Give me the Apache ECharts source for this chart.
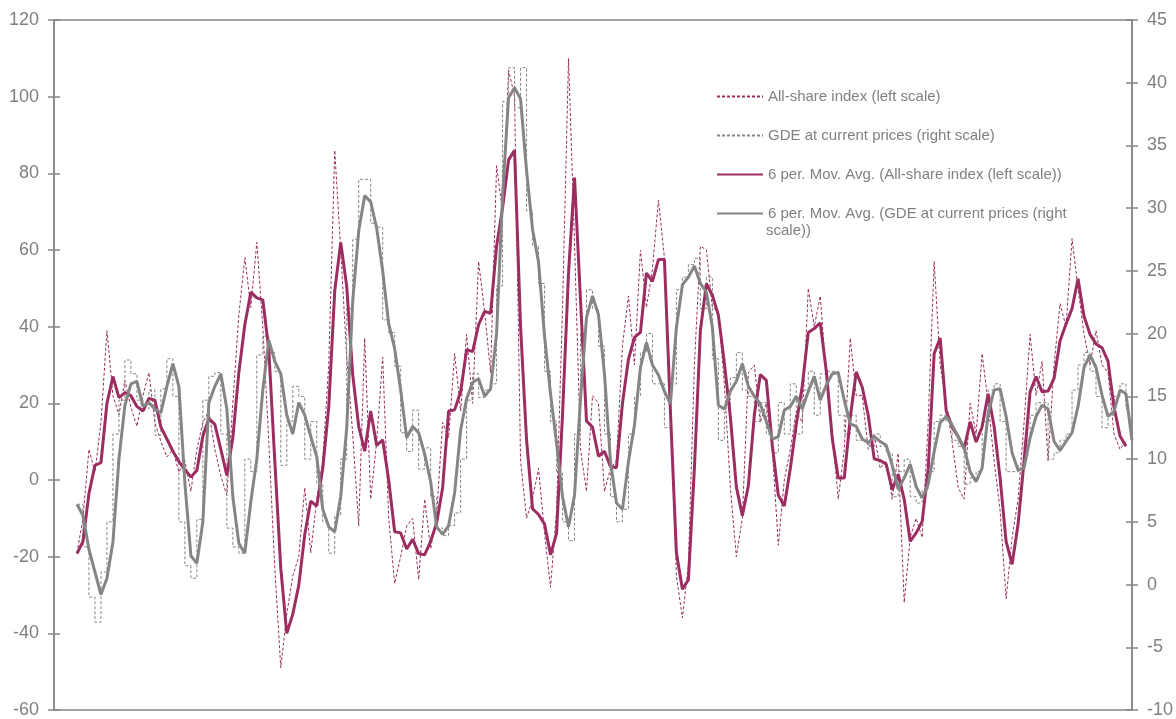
<!DOCTYPE html>
<html><head><meta charset="utf-8">
<script src="https://cdn.jsdelivr.net/npm/echarts@6/dist/echarts.min.js"></script>
<style>html,body{margin:0;padding:0;background:#fff}#c{width:1176px;height:719px}</style>
</head><body><div id="c"></div>
<script>
// quarterly samples, index = quarter number from start of the series
const allShare = [-19,-10,8,2,15,39,22,17,26,19,14,22,28,15,10,6,8,2,5,-3,8,15,18,8,1,-4,20,43,58,45,62,40,10,-23,-49,-35,-25,-20,-2,-19,-5,5,30,86,60,32,12,-12,37,-5,10,32,-10,-27,-20,-12,-10,-26,-5,-18,-9,15,11,33,18,38,20,57,44,28,82,70,107,100,5,-10,-5,3,-14,-28,-8,45,110,62,8,-3,22,20,-3,3,5,35,48,30,60,45,55,73,58,20,-25,-36,-22,30,61,60,45,44,25,-2,-20,-10,28,30,15,20,8,-17,0,8,18,15,50,40,48,27,12,-5,8,37,22,22,8,12,3,5,-5,7,-32,-15,-10,-15,15,57,30,20,10,-2,-5,20,12,33,20,5,-8,-31,-15,-5,15,38,22,31,5,30,46,40,63,50,38,30,39,30,28,12,8,10];
const gde = [6.4,3,-1,-3,1,5,12,14.7,17.9,16.8,14.7,14,15.5,11.9,15.6,18,15,5,1.5,0.5,5.2,14.7,16.6,16.9,12,4.5,3,2.5,10,9,18.3,19.8,18.5,17,9.5,13,15.8,15,10,13,8,5,2.5,5.5,10,22,27.5,32.3,32.3,28.8,28.5,21.1,20.1,17.4,12.1,10.6,13.9,9.2,10.9,7,4.5,3.9,4.7,5.7,10,14.7,16.8,14.9,15.5,16,23.8,38.5,41.2,38,41.2,29.8,27,24,17,13,9,5,3.5,12,20,23.5,22,19,12,7,5,6,12,15,18.5,20,16,16,12.5,16,23.5,24.5,25.5,26,22,24.5,18,11.5,14,16.5,18.5,15.5,15,13,14.5,12,10.5,14.5,12,16,12,15.5,17,13.5,16.8,17,17,13.5,12,13.5,11.5,11.5,11,12,11,10.5,7,9,10,7,6.5,7.5,9,13,13.5,13,11.5,11,8,8.5,9,13,15.5,16,13,9,9,9.5,11.5,13.5,14.5,14.5,10,10.5,11.5,12,15.5,17.5,18.5,17,15,12.5,13.5,15,16,14,10];
const allShareMA = [-19.2,-16,-3.5,3.8,4.5,20,27,21.5,22.8,22,19.2,18,21.3,20.8,13.8,10.7,7.5,4.8,2.7,0.8,2.5,11.5,16,14.5,8,1.2,11,28,40.5,49,47.5,47,34,5,-23,-40,-35,-27.5,-14.2,-5.5,-6.8,3,19,49.3,62,50.5,27.5,14,7.5,18,9,10.5,0,-13.5,-13.8,-18,-15.5,-19.2,-19.5,-16,-11.2,-2,18,18.3,23,34,33.5,40.5,44,43.5,61,71,83.5,86,40,10.5,-7.5,-9,-11.5,-19.5,-14,17,54,78.9,47,15.4,13.8,6.2,7.5,3.5,3.2,20,31.5,37.2,38.5,54,51.8,57.5,57.5,18,-19,-28.5,-26,3,39,51.2,48.2,43,30.5,16.5,-1.8,-9.3,-1.5,17,27.5,26,9,-4,-6.8,3,14.6,24.6,38.5,39.5,41,28.5,10.8,0.5,0.5,16.3,28.2,24.2,16.9,5.5,5.1,4.1,-2.5,1.5,-5,-16,-13.8,-10.8,2.7,33,37,18.1,13.8,11.3,8.2,15.2,9.9,13.9,22.5,14,0.5,-16,-22,-11.5,5,23,27,23,23.2,26.5,36.3,40.7,44.7,52.5,42.7,38,35.5,34.5,31,19,11.5,8.8];
const gdeMA = [6.4,5.5,2.8,1,-0.8,0.5,3.4,10,14.3,16,16.2,14.2,14.5,14,13.7,15.8,17.6,15.8,8.1,2.3,1.7,5,14.5,15.8,16.8,14,7,3.3,2.5,6.6,10,15.5,19.5,17.8,16.8,13.5,12,14.5,13.5,11.8,10.2,6,4.6,4.2,7,12.5,22.6,28.2,31,30.5,28.4,25,20.8,18.8,15.5,11.7,12.6,12.1,10.4,8.2,4.6,4,4.7,7.3,12.3,14.8,16.1,16.4,15,15.6,20,31,38.8,39.6,38.7,33,28.3,25.7,19.8,15.2,11.3,7,4.6,7.1,14.8,21.3,23,21.5,16.8,9.8,6.5,6,9.8,12.7,17.3,19.3,17.5,16.7,15.4,14.4,20.5,23.9,24.5,25.4,24,23.3,20.5,14.3,14,15.4,16.2,17.6,15.8,15,14.4,13,11.6,11.8,13.9,14.2,15,14,15.4,16.6,14.7,15.9,16.8,16.9,14.7,12.8,12.6,11.6,11.3,11.8,11.4,11.1,9.5,7.6,8.5,9.6,7.8,6.9,8,10.6,12.9,13.4,12.7,11.8,10.9,9,8.2,9.3,13.6,15.5,15.6,13.4,10.5,9.1,9.3,11.7,13.4,14.3,14,11.4,10.7,11.4,12.1,14.2,17.3,18.3,17.3,15.1,13.4,13.8,15.5,15.2,11.5];
const leftTicks = {min:-60,max:120,interval:20};
const rightTicks = {min:-10,max:45,interval:5};
const names = ['All-share index (left scale)','GDE at current prices (right scale)','6 per. Mov. Avg. (All-share index (left scale))','6 per. Mov. Avg. (GDE at current prices (right scale))'];

const MAG='#9b2d60', GRY='#858585', AX='#868686', TXT='#808080';
const FONT='Liberation Sans, Arial';
const pts = a => a.map((v,i)=>[i,v]);
const chart = echarts.init(document.getElementById('c'),null,{renderer:'canvas'});
const yBase = (side,t,labels,inside) => ({type:'value',position:side,min:t.min,max:t.max,interval:t.interval,
  axisLine:{show:true,onZero:false,lineStyle:{color:AX,width:1.5}},
  axisTick:{show:true,inside:inside,length:6,lineStyle:{color:AX,width:1.5}},
  axisLabel:{show:labels,color:TXT,fontFamily:FONT,fontSize:18,margin:15},
  splitLine:{show:false}});
const xBase = pos => ({type:'value',position:pos,min:-3.8333,max:176,
  axisLine:{show:true,onZero:false,lineStyle:{color:AX,width:1.5}},axisTick:{show:false},axisLabel:{show:false},splitLine:{show:false}});
chart.setOption({
  animation:false,
  grid:{left:54,right:43,top:20,bottom:7,containLabel:false},
  xAxis:[xBase('bottom'),xBase('top')],
  yAxis:[yBase('left',leftTicks,true,false),yBase('right',rightTicks,true,false),yBase('left',leftTicks,false,true),yBase('right',rightTicks,false,true)],
  legend:{orient:'vertical',left:716,top:89,padding:0,itemWidth:46,itemHeight:14,itemGap:24,
    itemStyle:{opacity:0},
    textStyle:{color:TXT,fontFamily:FONT,fontSize:15},
    formatter:n=> n===names[3] ? '6 per. Mov. Avg. (GDE at current prices (right' : n,
    data:names},
  graphic:[{type:'text',left:766,top:223,style:{text:'scale))',fill:TXT,font:'15px Liberation Sans, Arial'}}],
  series:[
    {name:names[0],type:'line',yAxisIndex:0,data:pts(allShare),symbol:'none',lineStyle:{color:MAG,width:1,type:[3,2]},itemStyle:{color:MAG}},
    {name:names[1],type:'line',yAxisIndex:1,data:pts(gde),step:'end',symbol:'none',lineStyle:{color:GRY,width:1,type:[3,2]},itemStyle:{color:GRY}},
    {name:names[2],type:'line',yAxisIndex:0,data:pts(allShareMA),symbol:'none',lineStyle:{color:MAG,width:3},itemStyle:{color:MAG}},
    {name:names[3],type:'line',yAxisIndex:1,data:pts(gdeMA),symbol:'none',lineStyle:{color:GRY,width:3},itemStyle:{color:GRY}}
  ]
});
</script></body></html>
